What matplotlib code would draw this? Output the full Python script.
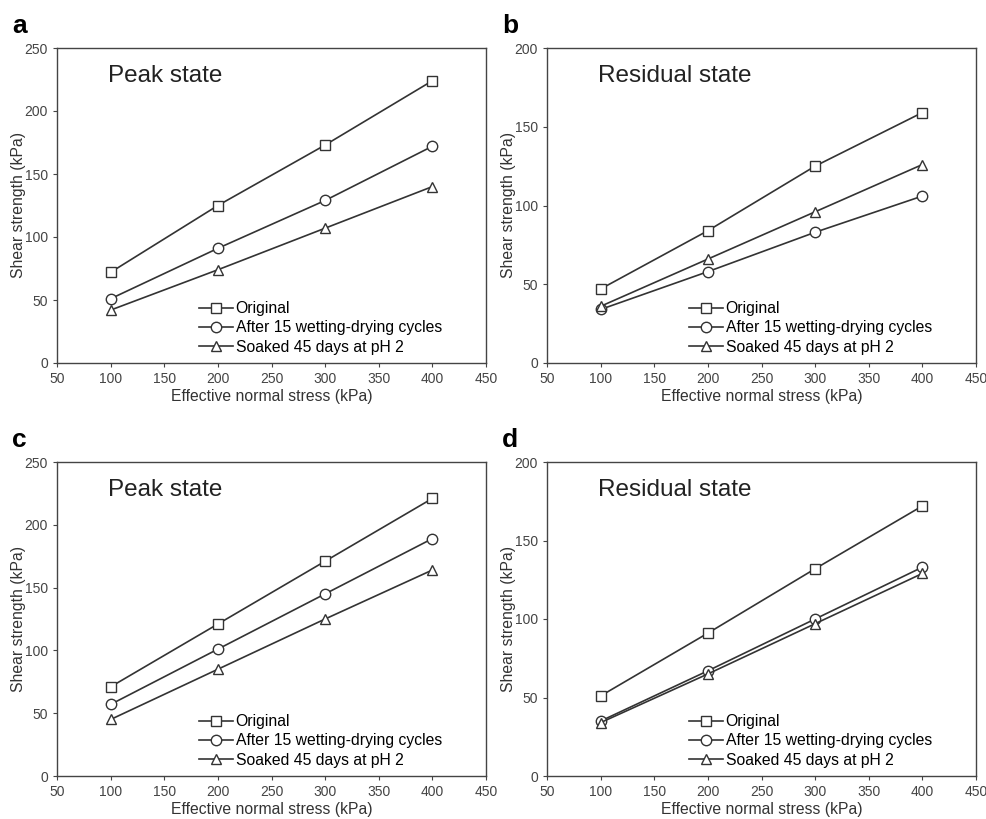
import matplotlib.pyplot as plt

plt.rcParams['font.family'] = ['Liberation Sans', 'DejaVu Sans']

stress = [100, 200, 300, 400]
series_names = ['Original', 'After 15 wetting-drying cycles', 'Soaked 45 days at pH 2']

# panel values: original, wetting-drying, soaked
a_vals = [[72, 125, 173, 224], [51, 91, 129, 172], [42, 74, 107, 140]]
b_vals = [[47, 84, 125, 159], [34, 58, 83, 106], [36, 66, 96, 126]]
c_vals = [[71, 121, 171, 221], [57, 101, 145, 189], [45, 85, 125, 164]]
d_vals = [[51, 91, 132, 172], [35, 67, 100, 133], [34, 65, 97, 129]]

panels = [('a', 'Peak state', a_vals, 250),
          ('b', 'Residual state', b_vals, 200),
          ('c', 'Peak state', c_vals, 250),
          ('d', 'Residual state', d_vals, 200)]

markers = ['s', 'o', '^']
msizes = [6.5, 7.5, 7.5]
lc = '#333333'

W, H = 986, 819
fig = plt.figure(figsize=(W / 100, H / 100), dpi=100)

# axes boxes in pixels: left, top, right, bottom
boxes = [(57, 48, 486, 363), (547, 48, 976, 363),
         (57, 462, 486, 776), (547, 462, 976, 776)]

for (letter, state, vals, ymax), (l, t, r, b) in zip(panels, boxes):
    ax = fig.add_axes([l / W, 1 - b / H, (r - l) / W, (b - t) / H])
    for v, m, ms, name in zip(vals, markers, msizes, series_names):
        ax.plot(stress, v, color=lc, lw=1.2, marker=m, ms=ms,
                mfc='white', mec=lc, mew=1.0, label=name)
    ax.set_xlim(50, 450)
    ax.set_ylim(0, ymax)
    ax.set_xticks(range(50, 451, 50))
    ax.set_yticks(range(0, ymax + 1, 50))
    ax.tick_params(labelsize=10, labelcolor='#444444', length=3, width=0.8, color='#444444')
    for s in ax.spines.values():
        s.set_color('#444444')
        s.set_linewidth(1.0)
    ax.set_xlabel('Effective normal stress (kPa)', fontsize=11.3, color='#333333', labelpad=2)
    ax.set_ylabel('Shear strength (kPa)', fontsize=11.3, color='#333333')
    ax.yaxis.set_label_coords(-0.073, 0.5)
    ax.text(0.12, 0.91, state, transform=ax.transAxes, fontsize=17.5,
            color='#222222', va='center', ha='left')
    ax.legend(loc='lower left', bbox_to_anchor=(0.305, -0.008), frameon=False,
              fontsize=11.3, handlelength=2.2, handletextpad=0.15,
              labelspacing=0.27, borderaxespad=0.3)
    fig.text((l - 45) / W, 1 - (t - 22) / H, letter, fontsize=19,
             fontweight='bold', va='center', ha='left')

fig.savefig('out.png', dpi=100)
